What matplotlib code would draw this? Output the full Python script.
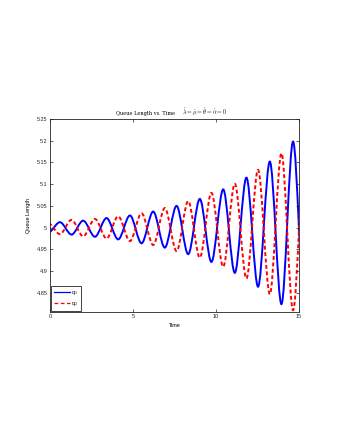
import matplotlib
matplotlib.use('Agg')
import matplotlib.pyplot as plt
from matplotlib.path import Path
from matplotlib.patches import PathPatch
from matplotlib.lines import Line2D
from matplotlib.ticker import FuncFormatter

plt.rc('mathtext', fontset='cm')
plt.rc('font', family=['Liberation Sans', 'DejaVu Sans'])

# turning points (peaks / troughs); the first and last
# entries sit just outside the 0..15 window and are clipped by the axes
q1_time = [-0.10, 0.60, 1.30, 2.00, 2.71, 3.41, 4.11, 4.82, 5.52, 6.22,
           6.92, 7.63, 8.33, 9.03, 9.73, 10.44, 11.14, 11.84, 12.54, 13.25,
           13.95, 14.65, 15.37]
q1_val = [4.989, 5.0125, 4.984, 5.016, 4.979, 5.022, 4.973, 5.028, 4.964, 5.037,
          4.954, 5.050, 4.939, 5.066, 4.921, 5.088, 4.896, 5.115, 4.864, 5.152,
          4.824, 5.198, 4.790]

q2_time = [-0.10, 0.60, 1.30, 2.00, 2.71, 3.41, 4.11, 4.82, 5.52, 6.22,
           6.92, 7.63, 8.33, 9.03, 9.73, 10.44, 11.14, 11.84, 12.54, 13.25,
           13.95, 14.65, 15.40]
q2_val = [5.010, 4.985, 5.018, 4.980, 5.020, 4.975, 5.026, 4.969, 5.033, 4.960,
          5.045, 4.946, 5.061, 4.931, 5.080, 4.910, 5.101, 4.883, 5.133, 4.847,
          5.171, 4.810, 5.210]

xticks = [0, 5, 10, 15]
yticks = [4.85, 4.9, 4.95, 5.0, 5.05, 5.1, 5.15, 5.2, 5.25]


def wave_path(ts, vs):
    # smooth half-oscillations: cubic segments with flat tangents at turning points
    verts = [(ts[0], vs[0])]
    codes = [Path.MOVETO]
    for i in range(len(ts) - 1):
        dt = ts[i + 1] - ts[i]
        verts += [(ts[i] + dt / 3.0, vs[i]), (ts[i + 1] - dt / 3.0, vs[i + 1]),
                  (ts[i + 1], vs[i + 1])]
        codes += [Path.CURVE4] * 3
    return Path(verts, codes)


fig = plt.figure(figsize=(3.4, 4.4), dpi=100)
ax = fig.add_axes([0.147, 0.2916, 0.732, 0.438])

blue_style = dict(color='b', lw=1.4)
red_style = dict(color='r', lw=1.4, ls=(0, (2.0, 1.3)))

ax.add_patch(PathPatch(wave_path(q1_time, q1_val), fill=False, **blue_style))
ax.add_patch(PathPatch(wave_path(q2_time, q2_val), fill=False, **red_style))

ax.set_xlim(0, 15)
ax.set_ylim(4.8066, 5.25)
ax.set_xticks(xticks)
ax.set_yticks(yticks)
fmt = FuncFormatter(lambda v, p: '%g' % v)
ax.xaxis.set_major_formatter(fmt)
ax.yaxis.set_major_formatter(fmt)
ax.tick_params(direction='in', top=True, right=True, length=2.5, width=0.5,
               labelsize=4.0, pad=2.0, colors='#222222')
for s in ax.spines.values():
    s.set_linewidth(0.6)
    s.set_color('#222222')

ax.set_xlabel('Time', fontsize=4.0, labelpad=2.5)
ax.set_ylabel('Queue Length', fontsize=4.0, labelpad=4)

# title: plain text part and the math part
ax.text(0.502, 1.02, 'Queue Length vs. Time', transform=ax.transAxes,
        ha='right', va='baseline', fontsize=3.6, family='serif')
ax.text(0.530, 1.02, r'$\dot{\lambda}=\dot{\mu}=\dot{\theta}=\dot{\alpha}=0$',
        transform=ax.transAxes, ha='left', va='baseline', fontsize=4.3)

handles = [Line2D([], [], color='b', lw=0.9),
           Line2D([], [], color='r', lw=0.9, ls=(0, (3.0, 2.0)))]
leg = ax.legend(handles, ['q$_1$', 'q$_2$'], loc='lower left', fontsize=4.0,
                fancybox=False, edgecolor='#222222', framealpha=1,
                handlelength=2.9, borderaxespad=0.15, borderpad=0.5,
                labelspacing=0.6, handletextpad=0.3)
leg.get_frame().set_linewidth(0.6)

fig.savefig('out.png', dpi=100)
